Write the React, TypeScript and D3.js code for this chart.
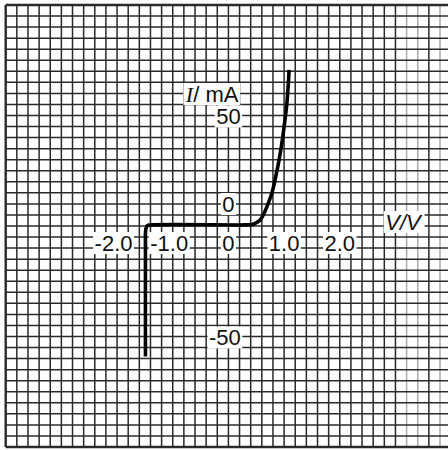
import React, { useEffect, useRef } from 'react';
import * as d3 from 'd3';

// diode I-V curve
const voltage = [-1.49, -1.49, -1.488, -1.475, -1.45, -1.4, 0.3, 0.4, 0.48, 0.57, 0.63, 0.69, 0.78, 0.85, 0.91, 0.96, 1.0, 1.05, 1.09];
const current = [-59, -10, -2.5, -0.6, 0.3, 0.5, 0.5, 0.6, 1.2, 2.7, 5.2, 8.7, 14.8, 22.3, 29.9, 37.4, 44.9, 55.5, 70.6];

const xTicks = [-2, -1, 0, 1, 2];
const xTickLabels = ['-2.0', '-1.0', '0', '1.0', '2.0'];
const yTicks = [50, 0, -50];
const yTickLabels = ['50', '0', '-50'];

const W = 448;
const H = 450;

const App = () => {
  const svgRef = useRef(null);

  useEffect(() => {
    const root = d3.select(svgRef.current);
    root.selectAll('*').remove();

    // 0.2 V and 5 mA per small square
    const x = d3.scaleLinear().domain([-4, 4]).range([5.7, 5.7 + 40 * 11.136]);
    const y = d3.scaleLinear().domain([-100, 100]).range([447, 5]);

    const svg = root.attr('width', W).attr('height', H);
    svg.append('rect').attr('width', W).attr('height', H).attr('fill', '#fff');

    const grid = svg.append('g');
    const vLines = d3.range(0, 40).map((i) => -4 + i * 0.2);
    const hLines = d3.range(0, 41).map((i) => -100 + i * 5);

    grid
      .selectAll('.vl')
      .data(vLines)
      .join('line')
      .attr('x1', (d) => x(d))
      .attr('x2', (d) => x(d))
      .attr('y1', y(100))
      .attr('y2', y(-100))
      .attr('stroke', (d) => (d > 3.1 && Math.abs(d - 3.6) > 0.05 ? '#aaa' : '#2a2a2a'))
      .attr('stroke-width', (d, i) => (i === 0 ? 2.4 : 1.5));

    grid
      .selectAll('.hl')
      .data(hLines)
      .join('line')
      .attr('x1', x(-4))
      .attr('x2', W)
      .attr('y1', (d) => y(d))
      .attr('y2', (d) => y(d))
      .attr('stroke', '#2a2a2a')
      .attr('stroke-width', (d, i) => (i === 0 || i === 40 ? 2.4 : 1.5));

    const pts = voltage.map((v, i) => [v, current[i]]);
    svg
      .append('path')
      .datum(pts)
      .attr('fill', 'none')
      .attr('stroke', '#000')
      .attr('stroke-width', 3.6)
      .attr('stroke-linejoin', 'round')
      .attr(
        'd',
        d3
          .line()
          .x((d) => x(d[0]))
          .y((d) => y(d[1]))
          .curve(d3.curveCatmullRom.alpha(0.5))
      );

    const labels = svg.append('g').attr('font-family', '"Liberation Sans", Arial, sans-serif').attr('font-size', 22).attr('fill', '#111');

    const boxed = (sel) => {
      sel.each(function () {
        const bb = this.getBBox();
        d3.select(this.parentNode)
          .insert('rect', () => this)
          .attr('x', bb.x - 1.5)
          .attr('y', bb.y + 1.5)
          .attr('width', bb.width + 3)
          .attr('height', bb.height - 3)
          .attr('fill', '#fff');
      });
    };

    const xl = labels
      .selectAll('.xt')
      .data(xTicks)
      .join('text')
      .attr('x', (d) => x(d) + (d < 0 ? -3.5 : 0))
      .attr('y', y(0) + 17)
      .attr('text-anchor', 'middle')
      .attr('dominant-baseline', 'central')
      .text((d, i) => xTickLabels[i]);
    boxed(xl);

    const yl = labels
      .selectAll('.yt')
      .data(yTicks)
      .join('text')
      .attr('x', (d) => x(0) + (d < 0 ? -3.5 : 0))
      .attr('y', (d) => (d === 0 ? y(0) - 22 : y(d) + 1))
      .attr('text-anchor', 'middle')
      .attr('dominant-baseline', 'central')
      .text((d, i) => yTickLabels[i]);
    boxed(yl);

    const iLabel = labels
      .append('text')
      .attr('x', x(0) + 10)
      .attr('y', 94)
      .attr('text-anchor', 'end')
      .attr('dominant-baseline', 'central');
    iLabel.append('tspan').attr('font-family', '"Liberation Serif", serif').attr('font-style', 'italic').text('I');
    iLabel.append('tspan').text('/ mA');
    boxed(iLabel);

    const vLabel = labels
      .append('text')
      .attr('x', 403)
      .attr('y', 222)
      .attr('text-anchor', 'middle')
      .attr('dominant-baseline', 'central')
      .attr('font-style', 'italic')
      .text('V/V');
    boxed(vLabel);
  }, []);

  return <svg ref={svgRef} style={{ position: 'absolute', left: 0, top: 0 }}></svg>;
};

export default App;
